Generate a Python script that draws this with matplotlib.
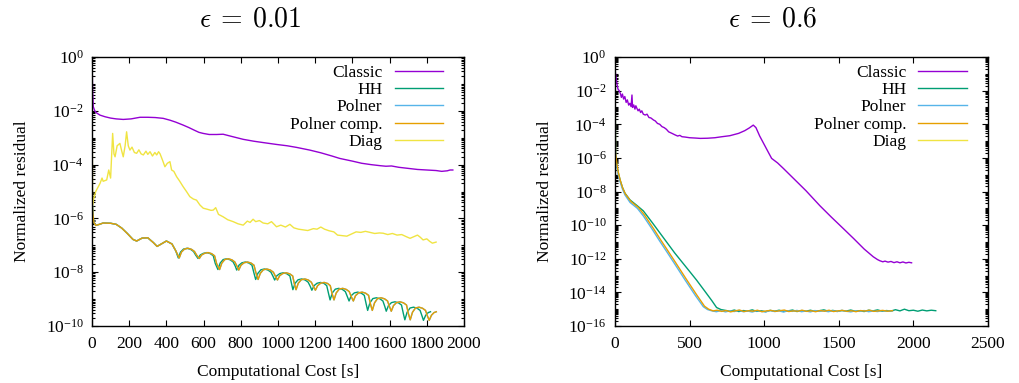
import numpy as np
import matplotlib
matplotlib.use('Agg')
import matplotlib.pyplot as plt
from matplotlib.ticker import FixedLocator, NullFormatter

# all residuals are stored as log10(normalized residual)

# ---------------- eps = 0.01 ----------------
left_classic_x = [0, 3, 7, 15, 25, 43, 70, 100, 130, 168, 210, 258, 300, 340, 383, 420, 450, 490,
                  520, 550, 575, 598, 630, 670, 705, 750, 813, 870, 920, 992, 1050, 1100, 1171,
                  1230, 1290, 1332, 1400, 1450, 1500, 1550, 1580, 1610, 1650, 1700, 1750, 1800,
                  1850, 1880, 1910, 1925, 1940]
left_classic_y = [0, -1.2, -1.85, -2.0, -2.08, -2.16, -2.22, -2.27, -2.3, -2.32, -2.3, -2.24,
                  -2.24, -2.25, -2.28, -2.35, -2.42, -2.53, -2.62, -2.72, -2.8, -2.84, -2.88,
                  -2.88, -2.87, -2.95, -3.06, -3.13, -3.18, -3.25, -3.3, -3.36, -3.46, -3.56,
                  -3.68, -3.77, -3.87, -3.95, -4.0, -4.04, -4.06, -4.05, -4.1, -4.14, -4.18,
                  -4.2, -4.22, -4.25, -4.23, -4.2, -4.2]

# common start of HH / Polner / Polner comp.
left_start_x = [0, 2, 5, 10, 20, 40, 60, 100, 130, 160, 190, 220, 240, 270, 300, 330, 350, 370,
                400, 430, 450]
left_start_y = [0, -5.5, -5.85, -6.15, -6.26, -6.22, -6.17, -6.18, -6.22, -6.36, -6.56, -6.78,
                -6.84, -6.73, -6.72, -6.9, -7.04, -6.96, -6.84, -6.95, -7.2]

# oscillating tail (same levels, Polner curves lag behind HH)
left_osc_y = [-7.47, -7.25, -7.14, -7.11, -7.15, -7.23, -7.36,
              -7.49, -7.36, -7.30, -7.27, -7.31, -7.39, -7.68,
              -7.90, -7.66, -7.53, -7.50, -7.54, -7.62, -7.77,
              -7.92, -7.74, -7.65, -7.62, -7.66, -7.74, -8.04,
              -8.27, -8.04, -7.91, -7.88, -7.92, -8.00, -8.15,
              -8.29, -8.13, -8.05, -8.02, -8.06, -8.14, -8.43,
              -8.65, -8.41, -8.28, -8.25, -8.29, -8.37, -8.52,
              -8.67, -8.50, -8.41, -8.38, -8.42, -8.50, -8.80,
              -9.03, -8.77, -8.63, -8.60, -8.64, -8.72, -8.91,
              -9.07, -8.87, -8.77, -8.74, -8.78, -8.86, -9.18,
              -9.42, -9.14, -8.98, -8.95, -8.99, -9.07, -9.27,
              -9.45, -9.24, -9.13, -9.10, -9.14, -9.22, -9.54,
              -9.77, -9.49, -9.33, -9.30, -9.34, -9.42, -9.62,
              -9.79, -9.60, -9.50, -9.47]
left_hh_x = [464, 476, 492, 511, 530, 546, 557,
             570, 582, 598, 617, 636, 652, 663,
             677, 689, 705, 724, 743, 759, 770,
             778, 790, 806, 825, 844, 860, 871,
             880, 892, 908, 927, 946, 962, 973,
             982, 994, 1010, 1029, 1048, 1064, 1073,
             1080, 1092, 1108, 1127, 1146, 1162, 1173,
             1182, 1194, 1210, 1229, 1248, 1262, 1272,
             1280, 1292, 1308, 1327, 1346, 1362, 1373,
             1382, 1394, 1410, 1429, 1448, 1464, 1474,
             1482, 1494, 1510, 1529, 1548, 1564, 1574,
             1582, 1594, 1610, 1629, 1648, 1664, 1674,
             1682, 1694, 1710, 1729, 1748, 1764, 1774,
             1782, 1794, 1808, 1820]
left_comp_x = [469, 481, 497, 516, 535, 551, 562,
               577, 589, 605, 624, 643, 659, 670,
               686, 698, 714, 733, 752, 768, 779,
               789, 801, 817, 836, 855, 871, 882,
               893, 905, 921, 940, 959, 975, 986,
               997, 1009, 1025, 1044, 1063, 1079, 1088,
               1097, 1109, 1125, 1144, 1163, 1179, 1190,
               1201, 1213, 1229, 1248, 1267, 1281, 1291,
               1301, 1313, 1329, 1348, 1367, 1383, 1394,
               1405, 1417, 1433, 1452, 1471, 1487, 1497,
               1507, 1519, 1535, 1554, 1573, 1589, 1599,
               1609, 1621, 1637, 1656, 1675, 1691, 1701,
               1711, 1723, 1739, 1758, 1777, 1793, 1803,
               1813, 1825, 1839, 1851]

left_diag_x = [0, 3, 7, 20, 43, 54, 60, 79, 90, 100, 111, 118, 124, 135, 150, 160, 168, 178, 186,
               195, 204, 215, 228, 240, 252, 264, 276, 290, 300, 312, 325, 338, 348, 358, 366,
               380, 392, 405, 419, 428, 440, 455, 470, 490, 508, 526, 545, 562, 580, 598, 620,
               640, 652, 665, 680, 705, 730, 759, 785, 813, 835, 850, 866, 880, 900, 920, 945,
               965, 992, 1015, 1040, 1064, 1085, 1110, 1130, 1160, 1190, 1210, 1230, 1250, 1275,
               1300, 1320, 1345, 1370, 1395, 1420, 1445, 1470, 1495, 1520, 1545, 1565, 1590,
               1615, 1640, 1665, 1690, 1710, 1730, 1750, 1765, 1780, 1800, 1815, 1830, 1850]
left_diag_y = [0, -5.5, -5.32, -5.0, -4.7, -4.5, -4.62, -4.57, -4.2, -4.5, -2.84, -3.6, -3.71,
               -3.3, -3.21, -3.5, -3.71, -3.3, -2.78, -3.3, -3.46, -3.35, -3.55, -3.58, -3.45,
               -3.6, -3.64, -3.5, -3.62, -3.52, -3.68, -3.55, -3.64, -3.52, -3.6, -3.85, -4.08,
               -3.95, -3.89, -4.2, -4.25, -4.45, -4.6, -4.82, -5.0, -5.19, -5.28, -5.32, -5.5,
               -5.62, -5.66, -5.7, -5.69, -5.6, -5.85, -5.94, -6.05, -6.12, -6.2, -6.25, -6.1,
               -6.15, -6.03, -6.12, -6.08, -6.17, -6.2, -6.12, -6.31, -6.25, -6.32, -6.22,
               -6.35, -6.4, -6.42, -6.45, -6.38, -6.4, -6.32, -6.4, -6.46, -6.5, -6.62, -6.64,
               -6.66, -6.58, -6.5, -6.52, -6.48, -6.52, -6.56, -6.54, -6.55, -6.6, -6.56, -6.62,
               -6.6, -6.68, -6.74, -6.68, -6.62, -6.7, -6.8, -6.76, -6.85, -6.92, -6.88]

# ---------------- eps = 0.6 ----------------
right_classic_x = [0, 2, 7, 13, 20, 28, 36, 43, 50, 58, 66, 75, 83, 92, 100, 108, 114, 118, 126,
                   134, 140, 147, 155, 163, 172, 180, 190, 203, 215, 228, 240, 259, 270, 285,
                   300, 315, 330, 345, 360, 382, 400, 420, 435, 449, 470, 500, 540, 572, 620,
                   670, 717, 770, 829, 870, 900, 927, 945, 970, 1000, 1030, 1050, 1090, 1128,
                   1200, 1280, 1374, 1450, 1530, 1600, 1670, 1731, 1760, 1776, 1795, 1810, 1830,
                   1850, 1870, 1890, 1910, 1930, 1950, 1970, 1988]
right_classic_y = [0, -0.87, -1.2, -1.57, -1.9, -2.0, -2.16, -2.4, -2.2, -2.5, -2.35, -2.7,
                   -2.55, -2.86, -2.75, -2.95, -2.26, -3.0, -2.85, -3.1, -2.9, -3.05, -3.2, -3.1,
                   -3.3, -3.2, -3.4, -3.45, -3.4, -3.6, -3.62, -3.75, -3.8, -3.95, -4.0, -4.14,
                   -4.2, -4.3, -4.45, -4.54, -4.62, -4.7, -4.66, -4.74, -4.76, -4.8, -4.82, -4.84,
                   -4.83, -4.8, -4.74, -4.68, -4.54, -4.38, -4.22, -4.05, -4.2, -4.7, -5.2, -5.7,
                   -6.03, -6.3, -6.62, -7.25, -7.95, -8.85, -9.52, -10.2, -10.8, -11.42, -11.88,
                   -12.05, -12.12, -12.18, -12.14, -12.2, -12.16, -12.23, -12.18, -12.24, -12.19,
                   -12.25, -12.21, -12.24]

right_hh_x = [0, 4, 11, 20, 34, 50, 67, 101, 150, 190, 250, 300, 350, 400, 450, 500, 547, 600,
              650, 681, 710, 740, 770, 800, 830, 860, 890, 920, 950, 980, 1010, 1040, 1070, 1100,
              1130, 1160, 1190, 1220, 1250, 1280, 1310, 1340, 1370, 1400, 1430, 1460, 1490,
              1520, 1550, 1580, 1610, 1640, 1670, 1700, 1730, 1760, 1790, 1820, 1850, 1880,
              1910, 1940, 1970, 2000, 2030, 2060, 2090, 2120, 2150]
right_hh_y = [0, -5.8, -6.3, -6.8, -7.3, -7.75, -8.1, -8.5, -8.85, -9.15, -9.85, -10.45, -11.05,
              -11.65, -12.2, -12.75, -13.27, -13.9, -14.5, -14.9, -15.02, -15.07, -15.12, -15.05,
              -15.14, -15.08, -15.11, -15.04, -15.13, -15.09, -15.15, -15.07, -15.12, -15.06,
              -15.13, -15.1, -15.05, -15.14, -15.08, -15.12, -15.06, -15.13, -15.09, -15.04,
              -15.12, -15.07, -15.13, -15.08, -15.11, -15.05, -15.12, -15.09, -15.14, -15.06,
              -15.1, -15.04, -15.12, -15.08, -15.11, -15.03, -15.1, -15.0, -15.09, -15.06,
              -15.12, -15.05, -15.1, -15.06, -15.09]

right_polner_x = [0, 4, 11, 20, 34, 50, 67, 101, 150, 190, 250, 300, 350, 400, 469, 540, 592,
                  620, 650, 680, 710, 740, 770, 800, 830, 860, 890, 920, 950, 980, 1010, 1040,
                  1070, 1100, 1130, 1160, 1190, 1220, 1250, 1280, 1310, 1340, 1370, 1400, 1430,
                  1460, 1490, 1520, 1550, 1580, 1610, 1640, 1670, 1700, 1730, 1760, 1790, 1820,
                  1860]
right_polner_y = [0, -5.9, -6.45, -6.95, -7.4, -7.85, -8.2, -8.65, -9.0, -9.45, -10.25, -10.95,
                  -11.62, -12.3, -13.25, -14.2, -14.85, -15.02, -15.1, -15.15, -15.08, -15.16,
                  -15.1, -15.14, -15.07, -15.15, -15.11, -15.17, -15.09, -15.13, -15.16, -15.08,
                  -15.14, -15.1, -15.17, -15.09, -15.13, -15.07, -15.15, -15.11, -15.16, -15.08,
                  -15.13, -15.1, -15.15, -15.09, -15.14, -15.07, -15.12, -15.16, -15.1, -15.13,
                  -15.08, -15.15, -15.11, -15.14, -15.09, -15.12, -15.1]

right_comp_x = [0, 4, 12, 22, 36, 52, 70, 108, 157, 198, 258, 308, 358, 408, 477, 548, 600, 628,
                658, 685, 715, 745, 775, 805, 835, 865, 895, 925, 955, 985, 1015, 1045, 1075,
                1105, 1135, 1165, 1195, 1225, 1255, 1285, 1315, 1345, 1375, 1405, 1435, 1465,
                1495, 1525, 1555, 1585, 1615, 1645, 1675, 1705, 1735, 1765, 1795, 1825, 1860]
right_comp_y = [0, -5.7, -6.3, -6.85, -7.35, -7.8, -8.15, -8.6, -8.95, -9.4, -10.2, -10.9,
                -11.57, -12.25, -13.2, -14.15, -14.82, -15.0, -15.1, -15.06, -15.13, -15.08,
                -15.16, -15.1, -15.05, -15.14, -15.09, -15.12, -15.06, -15.15, -15.1, -15.07,
                -15.13, -15.09, -15.05, -15.14, -15.1, -15.12, -15.06, -15.13, -15.09, -15.15,
                -15.08, -15.12, -15.06, -15.14, -15.1, -15.07, -15.13, -15.09, -15.15, -15.08,
                -15.11, -15.06, -15.13, -15.1, -15.07, -15.12, -15.09]

labels = ['Classic', 'HH', 'Polner', 'Polner comp.', 'Diag']
colors = ['#9400d3', '#009e73', '#56b4e9', '#e69f00', '#f0e442']

plt.rcParams['font.family'] = ['Liberation Serif', 'DejaVu Serif']
plt.rcParams['mathtext.fontset'] = 'custom'
plt.rcParams['mathtext.rm'] = 'Liberation Serif'
plt.rcParams['mathtext.it'] = 'Liberation Serif:italic'
plt.rcParams['font.size'] = 12


def pw(v):
    return np.power(10.0, np.array(v, dtype=float))


def setup_axes(ax, xmax, xstep, ymin_exp):
    ax.set_yscale('log')
    ax.set_xlim(0, xmax)
    ax.set_ylim(10.0 ** ymin_exp, 1.0)
    ax.set_xticks(np.arange(0, xmax + 1, xstep))
    majors = [10.0 ** e for e in range(ymin_exp, 1, 2)]
    minors = []
    for e in range(ymin_exp, 0):
        for m in range(1, 10):
            if m == 1 and (e - ymin_exp) % 2 == 0:
                continue
            minors.append(m * 10.0 ** e)
    ax.yaxis.set_major_locator(FixedLocator(majors))
    ax.yaxis.set_minor_locator(FixedLocator(minors))
    ax.yaxis.set_minor_formatter(NullFormatter())
    ax.tick_params(which='both', direction='in', top=True, right=True, width=0.8)
    ax.tick_params(which='major', length=4.5, labelsize=12.5)
    ax.tick_params(which='minor', length=2.2)
    ax.tick_params(axis='x', pad=7)
    ax.tick_params(axis='y', pad=6)
    for s in ax.spines.values():
        s.set_linewidth(1.0)
    ax.set_xlabel('Computational Cost [s]', fontsize=12.5)
    ax.set_ylabel('Normalized residual', fontsize=12.5)
    ax.xaxis.set_label_coords(0.5, -0.14)
    ax.yaxis.set_label_coords(-0.166, 0.5)
    ax.legend(loc='upper right', bbox_to_anchor=(0.944, 0.972), frameon=False, markerfirst=False,
              handlelength=2.8, handletextpad=0.7, labelspacing=0.07, borderpad=0,
              borderaxespad=0, fontsize=12.5)


fig = plt.figure(figsize=(10.2, 3.83), dpi=100)
ax1 = fig.add_axes([0.0902, 0.1488, 0.3647, 0.7023])
ax2 = fig.add_axes([0.6029, 0.1488, 0.3657, 0.7023])

lw = 1.0
ax1.plot(left_classic_x, pw(left_classic_y), color=colors[0], lw=lw, label=labels[0])
ax1.plot(left_start_x + left_hh_x, pw(left_start_y + left_osc_y), color=colors[1], lw=lw, label=labels[1])
ax1.plot(left_start_x + left_comp_x, pw(left_start_y + left_osc_y), color=colors[2], lw=lw, label=labels[2])
ax1.plot(left_start_x + left_comp_x, pw(left_start_y + left_osc_y), color=colors[3], lw=lw, label=labels[3])
ax1.plot(left_diag_x, pw(left_diag_y), color=colors[4], lw=lw, label=labels[4])
setup_axes(ax1, 2000, 200, -10)

ax2.plot(right_classic_x, pw(right_classic_y), color=colors[0], lw=lw, label=labels[0])
ax2.plot(right_hh_x, pw(right_hh_y), color=colors[1], lw=lw, label=labels[1])
ax2.plot(right_polner_x, pw(right_polner_y), color=colors[2], lw=lw, label=labels[2])
ax2.plot(right_comp_x, pw(right_comp_y), color=colors[3], lw=lw, label=labels[3])
ax2.plot([], [], color=colors[4], lw=lw, label=labels[4])
setup_axes(ax2, 2500, 500, -16)

fig.text(250 / 1020, 1 - 20 / 383, r'$\epsilon\:=\:0.01$', ha='center', va='center',
         fontsize=20, math_fontfamily='cm')
fig.text(773 / 1020, 1 - 20 / 383, r'$\epsilon\:=\:0.6$', ha='center', va='center',
         fontsize=20, math_fontfamily='cm')

fig.savefig('out.png', dpi=100)
